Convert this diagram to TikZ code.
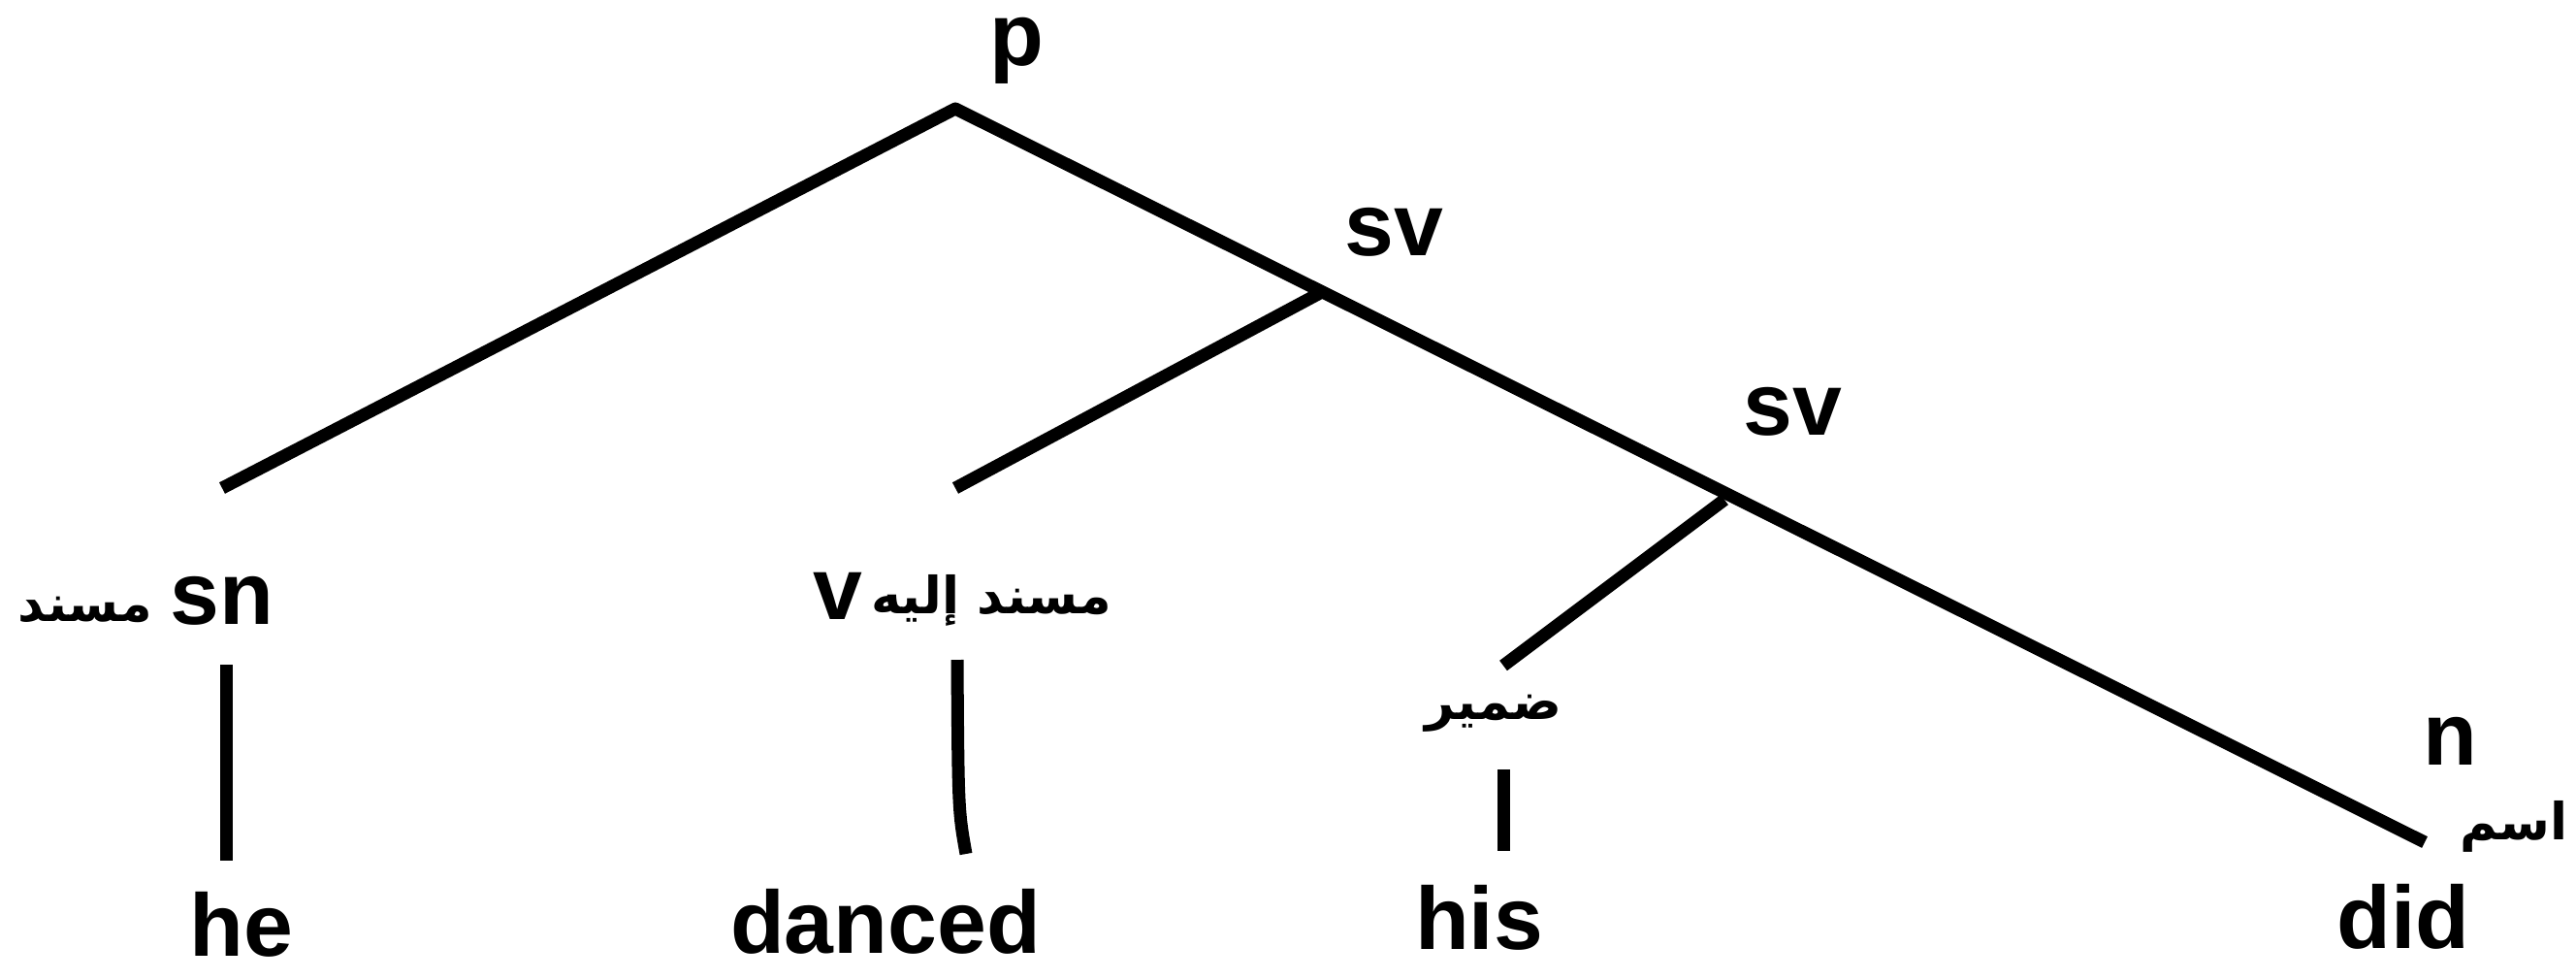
\documentclass[tikz,border=0pt]{standalone}
\usepackage{fontspec}
\setmainfont{Liberation Sans}
\newfontfamily\arabicfont[Script=Arabic]{DejaVu Sans}
\TeXXeTstate=1
\tikzset{
  cat/.style={font=\fontsize{26}{30}\selectfont\bfseries, inner sep=0pt, anchor=base},
  wrd/.style={cat},
  ar/.style={font=\fontsize{15}{18}\selectfont\arabicfont\bfseries, inner sep=0pt},
  edge/.style={line width=3.7pt, line join=round},
}
\begin{document}
\begin{tikzpicture}
  \useasboundingbox (0,0) rectangle (26.56,-10.09);
  % category labels
  \node[cat] (p) at (10.48,-0.67) {p};
  \node[cat] (sv1) at (14.37,-2.63) {sv};
  \node[cat] (sv2) at (18.48,-4.48) {sv};
  \node[cat] (sn) at (2.29,-6.43) {sn};
  \node[cat] (v) at (8.64,-6.38) {v};
  \node[cat] (n) at (25.26,-7.88) {n};
  % arabic labels
  \node[ar, anchor=base] (snar) at (0.88,-6.40) {\beginR مسند\endR};
  \node[ar, anchor=base] (var) at (10.22,-6.32) {\beginR مسند إليه\endR};
  \node[ar] (hisar) at (15.40,-7.35) {\beginR ضمير\endR};
  \node[ar] (didar) at (25.92,-8.52) {\beginR اسم\endR};
  % words
  \node[wrd] (he) at (2.49,-9.85) {he};
  \node[wrd] (danced) at (9.13,-9.82) {danced};
  \node[wrd] (his) at (15.25,-9.78) {his};
  \node[wrd] (did) at (24.78,-9.77) {did};
  % branch ends
  \coordinate (top) at (9.85,-1.12);
  \coordinate (j1) at (13.61,-3.02);
  \coordinate (j2) at (17.78,-5.15);
  \coordinate (snT) at (2.29,-5.03);
  \coordinate (vT) at (9.85,-5.03);
  \coordinate (hisT) at (15.50,-6.86);
  \coordinate (didT) at (25.00,-8.68);
  \coordinate (snB) at (2.33,-6.85);
  \coordinate (heT) at (2.33,-8.87);
  \coordinate (vB) at (9.87,-6.80);
  \coordinate (vM) at (9.88,-8.35);
  \coordinate (dancedT) at (9.96,-8.80);
  \coordinate (hisB) at (15.50,-7.93);
  \coordinate (hisW) at (15.50,-8.77);
  \draw[edge] (snT) -- (top) -- (didT);
  \draw[edge] (j1) -- (vT);
  \draw[edge] (j2) -- (hisT);
  \draw[edge] (vB) .. controls (vM) .. (dancedT);
  \foreach \a/\b in {snB/heT, hisB/hisW}
    \draw[edge] (\a) -- (\b);
\end{tikzpicture}
\end{document}
